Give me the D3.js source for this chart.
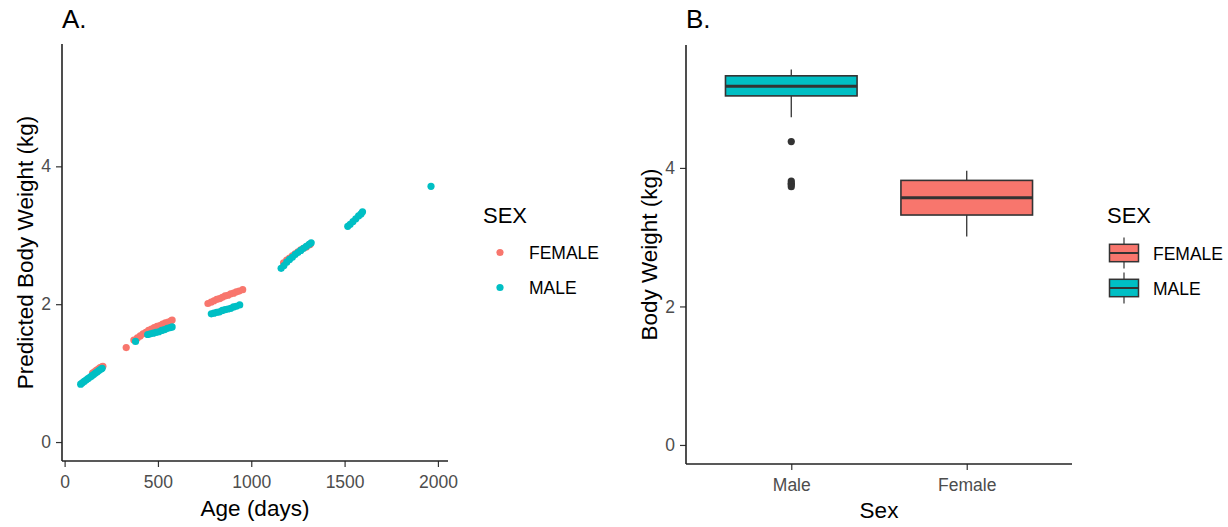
<!DOCTYPE html>
<html>
<head>
<meta charset="utf-8">
<script src="https://cdn.jsdelivr.net/npm/d3@7"></script>
<style>
  body { margin: 0; background: #fff; }
  text { font-family: "Liberation Sans", Arial, sans-serif; }
</style>
</head>
<body>
<div id="wrapper"></div>
<script>
// panel A: predicted weight vs age
const maleAge = [86, 95, 105, 115, 125, 135, 145, 155, 165, 175, 185, 195, 201,
  380, 445, 460, 475, 490, 505, 520, 535, 550, 565, 576,
  786, 800, 815, 830, 845, 860, 875, 890, 905, 920, 938,
  1160, 1175, 1190, 1205, 1220, 1235, 1250, 1265, 1280, 1295, 1310, 1321,
  1517, 1530, 1545, 1560, 1575, 1588, 1596,
  1963];
const maleWeight = [0.84, 0.86, 0.88, 0.90, 0.92, 0.94, 0.96, 0.98, 1.00, 1.02, 1.04, 1.06, 1.07,
  1.46, 1.56, 1.57, 1.58, 1.59, 1.60, 1.62, 1.63, 1.65, 1.66, 1.67,
  1.86, 1.87, 1.88, 1.89, 1.91, 1.92, 1.93, 1.94, 1.96, 1.97, 1.99,
  2.52, 2.56, 2.61, 2.65, 2.68, 2.72, 2.75, 2.78, 2.81, 2.84, 2.87, 2.89,
  3.13, 3.16, 3.20, 3.24, 3.28, 3.31, 3.34,
  3.71];
const femaleAge = [150, 160, 170, 180, 190, 200, 205,
  330,
  371, 390, 405, 420, 435, 450, 465, 480, 495, 510, 525, 540, 555, 570, 576,
  768, 785, 800, 815, 830, 845, 860, 875, 890, 905, 920, 935, 954,
  1173, 1190, 1205, 1220, 1235, 1250, 1265, 1280, 1295, 1310, 1316];
const femaleWeight = [1.00, 1.02, 1.04, 1.06, 1.08, 1.09, 1.10,
  1.37,
  1.48, 1.51, 1.54, 1.57, 1.59, 1.62, 1.64, 1.66, 1.68, 1.69, 1.71, 1.73, 1.74, 1.76, 1.77,
  2.01, 2.03, 2.05, 2.07, 2.08, 2.10, 2.12, 2.13, 2.15, 2.16, 2.18, 2.19, 2.21,
  2.60, 2.64, 2.67, 2.70, 2.73, 2.76, 2.79, 2.81, 2.83, 2.86, 2.87];

// panel B: box stats
const boxGroups = ["Male", "Female"];
const boxSex = ["MALE", "FEMALE"];
const boxWhiskerLow = [4.73, 3.01];
const boxQ1 = [5.04, 3.32];
const boxMedian = [5.18, 3.57];
const boxQ3 = [5.33, 3.82];
const boxWhiskerHigh = [5.42, 3.96];
const maleOutliers = [4.38, 3.81, 3.78, 3.76, 3.73];

const xTicksA = [0, 500, 1000, 1500, 2000];
const yTicks = [0, 2, 4];
const sexLevels = ["FEMALE", "MALE"];

var colorScale = d3.scaleOrdinal()
  .domain(sexLevels)
  .range(["#F8766D", "#00BFC4"]);

var dimension = {
  width: 1228,
  height: 527,
  a: { left: 62, right: 448, top: 44, bottom: 461 },
  b: { left: 686, right: 1072, top: 45, bottom: 464 }
};

const svg = d3.select("#wrapper")
  .append("svg")
  .attr("width", dimension.width)
  .attr("height", dimension.height);

const ink = "#333333";
const tickCol = "#4D4D4D";

function drawYAxis(g, yScale, left) {
  const ax = g.append("g")
    .attr("transform", `translate(${left},0)`)
    .call(d3.axisLeft(yScale).tickValues(yTicks).tickSize(6).tickPadding(5).tickFormat(d3.format("d")));
  ax.select(".domain").remove();
  ax.selectAll(".tick line").attr("stroke", ink).attr("stroke-width", 1.2);
  ax.selectAll(".tick text").attr("fill", tickCol).style("font-size", "17.5px");
}

function styleXAxis(ax) {
  ax.select(".domain").remove();
  ax.selectAll(".tick line").attr("stroke", ink).attr("stroke-width", 1.2);
  ax.selectAll(".tick text").attr("fill", tickCol).style("font-size", "17.5px").attr("dy", "0.95em");
}

function axisLines(g, p) {
  g.append("line").attr("x1", p.left).attr("x2", p.left).attr("y1", p.top).attr("y2", p.bottom)
    .attr("stroke", "#222").attr("stroke-width", 1.6);
  g.append("line").attr("x1", p.left).attr("x2", p.right).attr("y1", p.bottom).attr("y2", p.bottom)
    .attr("stroke", "#222").attr("stroke-width", 1.6);
}

// ---------- Panel A ----------
const pa = dimension.a;
const plotA = svg.append("g");

const xA = d3.scaleLinear().domain([-14, 2054]).range([pa.left, pa.right]);
const yA = d3.scaleLinear().domain([-0.275, 5.775]).range([pa.bottom, pa.top]);

drawYAxis(plotA, yA, pa.left);
const xAxA = plotA.append("g")
  .attr("transform", `translate(0,${pa.bottom})`)
  .call(d3.axisBottom(xA).tickValues(xTicksA).tickSize(6).tickPadding(4).tickFormat(d3.format("d")));
styleXAxis(xAxA);

const ptsF = femaleAge.map((a, i) => ({ age: a, w: femaleWeight[i], sex: "FEMALE" }));
const ptsM = maleAge.map((a, i) => ({ age: a, w: maleWeight[i], sex: "MALE" }));

plotA.append("g")
  .selectAll("circle")
  .data(ptsF.concat(ptsM))
  .enter()
  .append("circle")
  .attr("r", 3.6)
  .attr("cx", d => xA(d.age))
  .attr("cy", d => yA(d.w))
  .attr("fill", d => colorScale(d.sex));

axisLines(plotA, pa);

plotA.append("text").attr("x", pa.left).attr("y", 28).text("A.")
  .style("font-size", "26px").attr("fill", "#000");
plotA.append("text").attr("x", (pa.left + pa.right) / 2).attr("y", 516)
  .attr("text-anchor", "middle").style("font-size", "22.5px").attr("fill", "#000").text("Age (days)");
plotA.append("text")
  .attr("transform", `translate(33,${(pa.top + pa.bottom) / 2}) rotate(-90)`)
  .attr("text-anchor", "middle").style("font-size", "22.5px").attr("fill", "#000")
  .text("Predicted Body Weight (kg)");

// legend A
const legA = svg.append("g").attr("transform", "translate(483,0)");
legA.append("text").attr("x", 0).attr("y", 223).style("font-size", "22px").text("SEX");
legA.selectAll("circle.key")
  .data(sexLevels)
  .enter()
  .append("circle")
  .attr("cx", 17)
  .attr("cy", (d, i) => 252.5 + i * 35)
  .attr("r", 3.6)
  .attr("fill", d => colorScale(d));
legA.selectAll("text.lab")
  .data(sexLevels)
  .enter()
  .append("text")
  .attr("x", 46)
  .attr("y", (d, i) => 259 + i * 35)
  .style("font-size", "17.5px")
  .attr("fill", "#000")
  .text(d => d);

// ---------- Panel B ----------
const pb = dimension.b;
const plotB = svg.append("g");

const xB = d3.scalePoint().domain(boxGroups).range([pb.left, pb.right]).padding(0.6);
const yB = d3.scaleLinear().domain([-0.275, 5.775]).range([pb.bottom, pb.top]);
const boxW = xB.step() * 0.75;

drawYAxis(plotB, yB, pb.left);
const xAxB = plotB.append("g")
  .attr("transform", `translate(0,${pb.bottom})`)
  .call(d3.axisBottom(xB).tickSize(6).tickPadding(4));
styleXAxis(xAxB);

const boxes = boxGroups.map((g, i) => ({
  group: g, sex: boxSex[i], lo: boxWhiskerLow[i], q1: boxQ1[i],
  med: boxMedian[i], q3: boxQ3[i], hi: boxWhiskerHigh[i]
}));

const bx = plotB.append("g").selectAll("g").data(boxes).enter().append("g");
bx.append("line")
  .attr("x1", d => xB(d.group)).attr("x2", d => xB(d.group))
  .attr("y1", d => yB(d.hi)).attr("y2", d => yB(d.q3))
  .attr("stroke", ink).attr("stroke-width", 1.3);
bx.append("line")
  .attr("x1", d => xB(d.group)).attr("x2", d => xB(d.group))
  .attr("y1", d => yB(d.q1)).attr("y2", d => yB(d.lo))
  .attr("stroke", ink).attr("stroke-width", 1.3);
bx.append("rect")
  .attr("x", d => xB(d.group) - boxW / 2)
  .attr("width", boxW)
  .attr("y", d => yB(d.q3))
  .attr("height", d => yB(d.q1) - yB(d.q3))
  .attr("fill", d => colorScale(d.sex))
  .attr("stroke", ink).attr("stroke-width", 1.6);
bx.append("line")
  .attr("x1", d => xB(d.group) - boxW / 2).attr("x2", d => xB(d.group) + boxW / 2)
  .attr("y1", d => yB(d.med)).attr("y2", d => yB(d.med))
  .attr("stroke", ink).attr("stroke-width", 3);

plotB.append("g")
  .selectAll("circle")
  .data(maleOutliers)
  .enter()
  .append("circle")
  .attr("cx", xB("Male"))
  .attr("cy", d => yB(d))
  .attr("r", 3.6)
  .attr("fill", ink);

axisLines(plotB, pb);

plotB.append("text").attr("x", pb.left).attr("y", 28).text("B.")
  .style("font-size", "26px").attr("fill", "#000");
plotB.append("text").attr("x", (pb.left + pb.right) / 2).attr("y", 518)
  .attr("text-anchor", "middle").style("font-size", "22.5px").attr("fill", "#000").text("Sex");
plotB.append("text")
  .attr("transform", `translate(657,${(pb.top + pb.bottom) / 2}) rotate(-90)`)
  .attr("text-anchor", "middle").style("font-size", "22.5px").attr("fill", "#000")
  .text("Body Weight (kg)");

// legend B
const legB = svg.append("g").attr("transform", "translate(1107,0)");
legB.append("text").attr("x", 0).attr("y", 223).style("font-size", "22px").text("SEX");
const keyB = legB.selectAll("g.key")
  .data(sexLevels)
  .enter()
  .append("g")
  .attr("transform", (d, i) => `translate(17,${253 + i * 35})`);
keyB.append("line").attr("x1", 0).attr("x2", 0).attr("y1", -15.5).attr("y2", 15.5)
  .attr("stroke", ink).attr("stroke-width", 1.2);
keyB.append("rect").attr("x", -14.5).attr("y", -8.7).attr("width", 29).attr("height", 17.4)
  .attr("fill", d => colorScale(d)).attr("stroke", ink).attr("stroke-width", 1.5);
keyB.append("line").attr("x1", -14.5).attr("x2", 14.5).attr("y1", 0).attr("y2", 0)
  .attr("stroke", ink).attr("stroke-width", 2);
legB.selectAll("text.lab")
  .data(sexLevels)
  .enter()
  .append("text")
  .attr("x", 46)
  .attr("y", (d, i) => 259.5 + i * 35)
  .style("font-size", "17.5px")
  .attr("fill", "#000")
  .text(d => d);
</script>
</body>
</html>
